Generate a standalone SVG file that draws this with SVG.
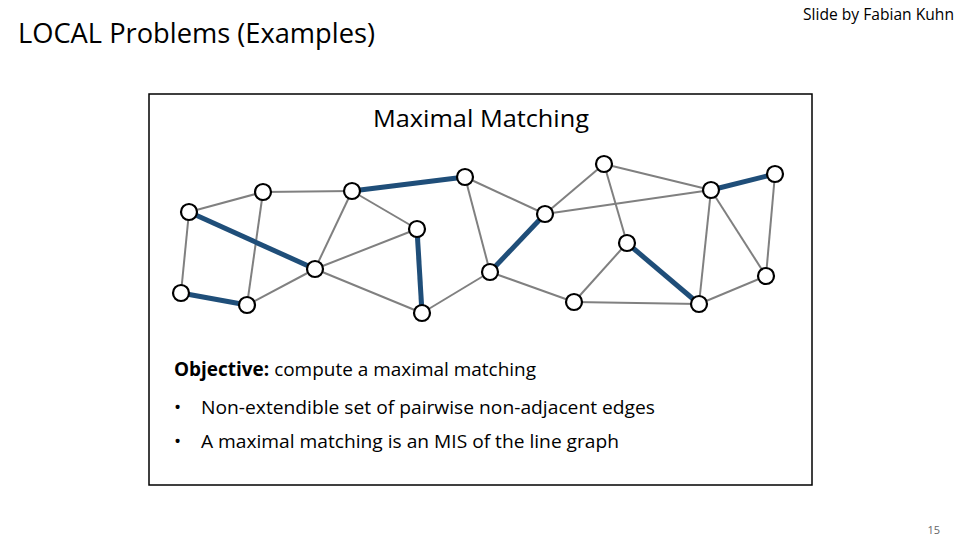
<svg xmlns="http://www.w3.org/2000/svg" width="960" height="540" viewBox="0 0 960 540">
<style>
.t{font-family:"Open Sans","Liberation Sans",sans-serif;fill:#000}
.g{stroke:#808080;stroke-width:2}
.b{stroke:#1f4e79;stroke-width:5}
circle{fill:#fff;stroke:#000;stroke-width:2.2}
</style>
<rect width="960" height="540" fill="#fff"/>
<text class="t" x="18" y="43" font-size="28" textLength="357" lengthAdjust="spacingAndGlyphs">LOCAL Problems (Examples)</text>
<text class="t" x="954" y="20" font-size="15.5" text-anchor="end" textLength="151" lengthAdjust="spacingAndGlyphs">Slide by Fabian Kuhn</text>
<rect x="149" y="94" width="663" height="391" fill="none" stroke="#000" stroke-width="1.5"/>
<text class="t" x="481" y="127" font-size="24" text-anchor="middle" textLength="216" lengthAdjust="spacingAndGlyphs">Maximal Matching</text>
<g id="connectors">
<line class="g" x1="189" y1="212" x2="263" y2="192"/>
<line class="g" x1="189" y1="212" x2="181" y2="293"/>
<line class="g" x1="263" y1="192" x2="352" y2="191"/>
<line class="g" x1="263" y1="192" x2="247" y2="305"/>
<line class="g" x1="247" y1="305" x2="315" y2="269"/>
<line class="g" x1="315" y1="269" x2="352" y2="191"/>
<line class="g" x1="352" y1="191" x2="417" y2="229"/>
<line class="g" x1="315" y1="269" x2="417" y2="229"/>
<line class="g" x1="315" y1="269" x2="422" y2="313"/>
<line class="g" x1="422" y1="313" x2="490" y2="272"/>
<line class="g" x1="465" y1="177" x2="545" y2="214"/>
<line class="g" x1="465" y1="177" x2="490" y2="272"/>
<line class="g" x1="490" y1="272" x2="574" y2="302"/>
<line class="g" x1="545" y1="214" x2="604" y2="164"/>
<line class="g" x1="545" y1="214" x2="711" y2="190"/>
<line class="g" x1="604" y1="164" x2="711" y2="190"/>
<line class="g" x1="604" y1="164" x2="627" y2="243"/>
<line class="g" x1="627" y1="243" x2="574" y2="302"/>
<line class="g" x1="574" y1="302" x2="699" y2="304"/>
<line class="g" x1="711" y1="190" x2="699" y2="304"/>
<line class="g" x1="711" y1="190" x2="766" y2="276"/>
<line class="g" x1="775" y1="174" x2="766" y2="276"/>
<line class="g" x1="699" y1="304" x2="766" y2="276"/>
<line class="b" x1="189" y1="212" x2="315" y2="269"/>
<line class="b" x1="181" y1="293" x2="247" y2="305"/>
<line class="b" x1="352" y1="191" x2="465" y2="177"/>
<line class="b" x1="417" y1="229" x2="422" y2="313"/>
<line class="b" x1="490" y1="272" x2="545" y2="214"/>
<line class="b" x1="627" y1="243" x2="699" y2="304"/>
<line class="b" x1="711" y1="190" x2="775" y2="174"/>
</g>
<g id="nA"><circle cx="189" cy="212" r="8"/></g>
<g id="nB"><circle cx="263" cy="192" r="8"/></g>
<g id="nC"><circle cx="352" cy="191" r="8"/></g>
<g id="nD"><circle cx="465" cy="177" r="8"/></g>
<g id="nE"><circle cx="417" cy="229" r="8"/></g>
<g id="nF"><circle cx="315" cy="269" r="8"/></g>
<g id="nG"><circle cx="181" cy="293" r="8"/></g>
<g id="nH"><circle cx="247" cy="305" r="8"/></g>
<g id="nI"><circle cx="422" cy="313" r="8"/></g>
<g id="nJ"><circle cx="490" cy="272" r="8"/></g>
<g id="nK"><circle cx="545" cy="214" r="8"/></g>
<g id="nL"><circle cx="604" cy="164" r="8"/></g>
<g id="nM"><circle cx="711" cy="190" r="8"/></g>
<g id="nN"><circle cx="775" cy="174" r="8"/></g>
<g id="nO"><circle cx="627" cy="243" r="8"/></g>
<g id="nP"><circle cx="574" cy="302" r="8"/></g>
<g id="nQ"><circle cx="699" cy="304" r="8"/></g>
<g id="nR"><circle cx="766" cy="276" r="8"/></g>
<text class="t" x="174" y="376" font-size="19" textLength="362" lengthAdjust="spacingAndGlyphs"><tspan font-weight="bold">Objective:</tspan> compute a maximal matching</text>
<text class="t" x="174" y="414" font-size="19">•<tspan x="201" textLength="454" lengthAdjust="spacingAndGlyphs">Non-extendible set of pairwise non-adjacent edges</tspan></text>
<text class="t" x="174" y="448" font-size="19">•<tspan x="201" textLength="418" lengthAdjust="spacingAndGlyphs">A maximal matching is an MIS of the line graph</tspan></text>
<text class="t" x="940" y="534" font-size="11" text-anchor="end" style="fill:#666">15</text>
</svg>
